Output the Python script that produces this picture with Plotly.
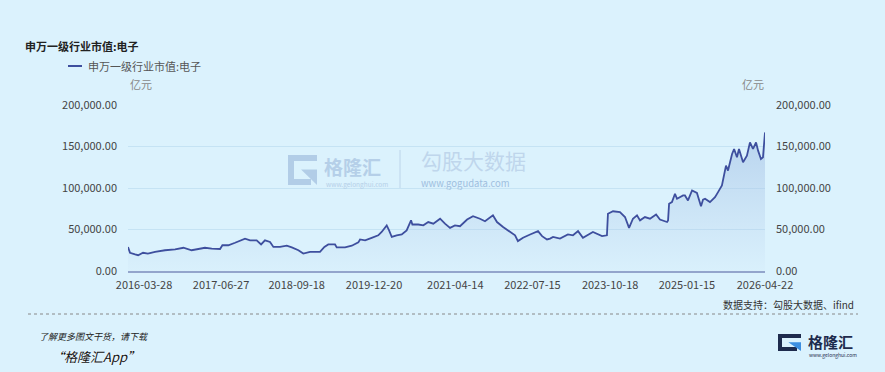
import plotly.graph_objects as go

# ---------------- data (亿元) ----------------
dates = [
    "2015-12-24", "2016-01-05", "2016-02-04", "2016-02-22", "2016-03-22", "2016-04-20", "2016-06-01",
    "2016-07-30", "2016-09-28", "2016-11-16", "2017-01-04", "2017-02-03", "2017-03-24", "2017-05-03",
    "2017-06-21", "2017-07-05", "2017-08-09", "2017-09-18", "2017-10-17", "2017-11-16", "2017-12-16",
    "2018-01-24", "2018-02-19", "2018-03-14", "2018-04-13", "2018-05-03", "2018-06-11", "2018-07-21",
    "2018-08-20", "2018-09-28", "2018-10-27", "2018-12-06", "2019-02-03", "2019-03-01", "2019-03-24",
    "2019-05-03", "2019-05-13", "2019-07-01", "2019-08-10", "2019-09-18", "2019-09-28", "2019-10-28",
    "2019-12-06", "2020-01-14", "2020-02-03", "2020-03-04", "2020-03-18", "2020-04-03", "2020-05-02",
    "2020-06-01", "2020-06-30", "2020-07-26", "2020-08-03", "2020-09-07", "2020-10-07", "2020-11-05",
    "2020-12-05", "2021-01-14", "2021-02-12", "2021-03-14", "2021-04-12",
    "2021-05-12", "2021-06-23", "2021-07-28",
    "2021-09-07", "2021-10-07", "2021-11-23", "2021-12-17", "2022-01-22", "2022-03-04", "2022-04-03",
    "2022-04-20", "2022-05-20", "2022-07-01", "2022-08-17", "2022-09-10", "2022-10-09", "2022-10-27",
    "2022-11-14", "2022-12-25", "2023-02-10", "2023-03-12", "2023-04-11", "2023-05-10", "2023-07-08",
    "2023-08-31", "2023-09-29", "2023-10-05", "2023-11-04", "2023-12-15", "2024-01-14", "2024-02-07",
    "2024-03-01", "2024-03-25", "2024-04-12", "2024-05-11", "2024-06-10", "2024-07-16", "2024-08-08",
    "2024-09-19", "2024-09-25", "2024-10-01", "2024-10-18", "2024-11-05", "2024-11-17", "2024-12-23",
    "2025-01-03", "2025-01-21", "2025-02-14", "2025-03-15", "2025-04-08", "2025-04-20", "2025-05-02",
    "2025-05-31", "2025-06-30", "2025-07-18", "2025-08-10", "2025-09-03", "2025-09-15", "2025-10-09",
    "2025-10-21", "2025-11-07", "2025-11-19", "2025-12-13", "2026-01-05", "2026-01-23", "2026-02-10",
    "2026-02-28", "2026-03-12", "2026-03-29", "2026-04-10", "2026-04-22",
]
values = [
    29000, 22000, 20000, 19000, 22000, 21000, 23000,
    25000, 26000, 28000, 25000, 26000, 28000, 27000,
    26500, 31000, 31000, 34000, 36000, 39000, 37000,
    37000, 32000, 37000, 35000, 29000, 29000, 30500,
    28500, 25000, 21000, 23000, 23000, 29000, 32000,
    32000, 28500, 28500, 30500, 34500, 38000, 37000,
    40000, 43000, 47000, 55000, 49000, 41000, 43000,
    44000, 49000, 61000, 56000, 56000, 55000, 59000,
    57000, 63000, 57000, 52000, 55000,
    54000, 62000, 66000,
    63000, 60000, 67000, 59000, 53000, 47000, 43000,
    36000, 40000, 44000, 48000, 42000, 38000, 39000,
    41000, 39000, 44000, 43000, 48000, 40000, 47000,
    42000, 43000, 69000, 72000, 71000, 65000, 52000,
    63000, 67000, 61000, 65000, 63000, 68000, 62000,
    59000, 61000, 81000, 83000, 93000, 87000, 91000,
    91000, 85000, 97000, 94000, 78000, 86000, 87000,
    83000, 89000, 95000, 103000, 127000, 121000, 141000,
    147000, 137000, 147000, 131000, 139000, 155000, 147000,
    155000, 145000, 135000, 137000, 167000,
]
tick_dates = ["2016-03-28", "2017-06-27", "2018-09-18", "2019-12-20", "2021-04-14",
              "2022-07-15", "2023-10-18", "2025-01-15", "2026-04-22"]
y_ticks = [0, 50000, 100000, 150000, 200000]
series_name = "申万一级行业市值:电子"
unit = "亿元"
source = "数据支持：勾股大数据、ifind"

# ---------------- layout helpers ----------------
W, H = 885, 372
L, R, T, B = 128, 765, 105, 271
FONT = "Noto Sans CJK SC, Noto Sans, sans-serif"
BG = "#dbf2fd"


def px(x):
    return (x - L) / (R - L)


def py(y):
    return (B - y) / (B - T)


fig = go.Figure()
fig.add_trace(go.Scatter(
    x=dates, y=values, mode="lines", name=series_name,
    line=dict(color="#3e4f9e", width=1.8),
    fill="tozeroy",
    fillgradient=dict(type="vertical",
                      colorscale=[[0, "rgba(175,200,232,0.05)"], [1, "rgba(165,195,230,0.65)"]]),
    hoverinfo="skip", showlegend=False,
))
fig.add_trace(go.Scatter(
    x=dates, y=values, mode="lines", yaxis="y2", line=dict(width=0),
    opacity=0, hoverinfo="skip", showlegend=False,
))

axis_font = dict(family=FONT, size=11, color="#444444")
fig.update_layout(
    width=W, height=H,
    margin=dict(l=L, r=W - R, t=T, b=H - B, pad=0),
    paper_bgcolor=BG, plot_bgcolor=BG,
    showlegend=False,
    font=dict(family=FONT),
    xaxis=dict(
        type="date", range=[dates[0], dates[-1]],
        tickvals=tick_dates, ticktext=tick_dates, tickfont=axis_font,
        showgrid=False, zeroline=False, showline=True, linecolor="#93a5cc", linewidth=2,
        ticks="", ticklabelstandoff=3,
    ),
    yaxis=dict(
        range=[0, 200000], tickvals=y_ticks, tickformat=",.2f", tickfont=axis_font,
        showgrid=True, gridcolor="#c5e3f4", gridwidth=1, zeroline=False, showline=False,
        ticks="", ticklabelstandoff=10,
    ),
    yaxis2=dict(
        range=[0, 200000], tickvals=y_ticks, tickformat=",.2f", tickfont=axis_font,
        overlaying="y", side="right", showgrid=False, zeroline=False, showline=False,
        ticks="", ticklabelstandoff=10,
    ),
)

ann = []
shapes = []


def text(x, y, s, size, color, xanchor="left", bold=False, italic=False, shadow=None):
    f = dict(family=FONT, size=size, color=color)
    if bold:
        f["weight"] = "bold"
    if italic:
        f["style"] = "italic"
    if shadow:
        f["shadow"] = shadow
    ann.append(dict(xref="paper", yref="paper", x=px(x), y=py(y), text=s, showarrow=False,
                    xanchor=xanchor, yanchor="middle", font=f))


# title and legend
text(23, 46, series_name, 11, "#222222", bold=True)
shapes.append(dict(type="line", xref="paper", yref="paper", x0=px(68), x1=px(82), y0=py(66), y1=py(66),
                   line=dict(color="#3e4f9e", width=2)))
text(86, 66, series_name, 11, "#555555")
# units
text(128, 84, unit, 11, "#888888")
text(766, 84, unit, 11, "#888888", xanchor="right")
# source
text(856, 304, source, 10, "#333333", xanchor="right")
shapes.append(dict(type="line", xref="paper", yref="paper", x0=px(28), x1=px(858), y0=py(314), y1=py(314),
                   line=dict(color="#888888", width=1, dash="dot")))
# footer texts
text(37, 336, "了解更多图文干货，请下载", 9, "#222222", italic=True)
text(49, 356, "“格隆汇App”", 13, "#111111", italic=True, shadow="0px 0px 2px #ffffff")


def logo(x0, y0, w, h, navy, blue, lw):
    # G-like icon: open square plus a triangle in the lower right
    path = (f"M {px(x0 + w)},{py(y0 + lw / 2)} L {px(x0 + lw / 2)},{py(y0 + lw / 2)} "
            f"L {px(x0 + lw / 2)},{py(y0 + h - lw / 2)} L {px(x0 + w - lw)},{py(y0 + h - lw / 2)}")
    shapes.append(dict(type="path", xref="paper", yref="paper", path=path,
                       line=dict(color=navy, width=lw)))
    tri = (f"M {px(x0 + w * 0.45)},{py(y0 + h * 0.48)} L {px(x0 + w)},{py(y0 + h * 0.48)} "
           f"L {px(x0 + w)},{py(y0 + h)} Z")
    shapes.append(dict(type="path", xref="paper", yref="paper", path=tri,
                       fillcolor=blue, line=dict(width=0)))


# bottom-right logo
logo(778, 334, 23, 17, "#1e2b4d", "#3d8fe0", 4)
text(806, 341, "格隆汇", 15, "#1e2b4d", bold=True)
text(807, 355, "www.gelonghui.com", 5, "#1e2b4d")

# watermark
logo(288, 155, 29, 30, "#b2cde7", "#b2cde7", 6)
text(322, 166, "格隆汇", 19, "#b5cfe8", bold=True)
text(324, 184, "www.gelonghui.com", 6.5, "#b5cfe8")
shapes.append(dict(type="line", xref="paper", yref="paper", x0=px(400), x1=px(400), y0=py(150), y1=py(188),
                   line=dict(color="#bcd4ea", width=1)))
text(419, 160, "勾股大数据", 21, "#bfd6ec")
text(419, 183, "www.gogudata.com", 9.5, "#9fbfdf")

fig.update_layout(annotations=ann, shapes=shapes)
fig.write_html("out.html")
